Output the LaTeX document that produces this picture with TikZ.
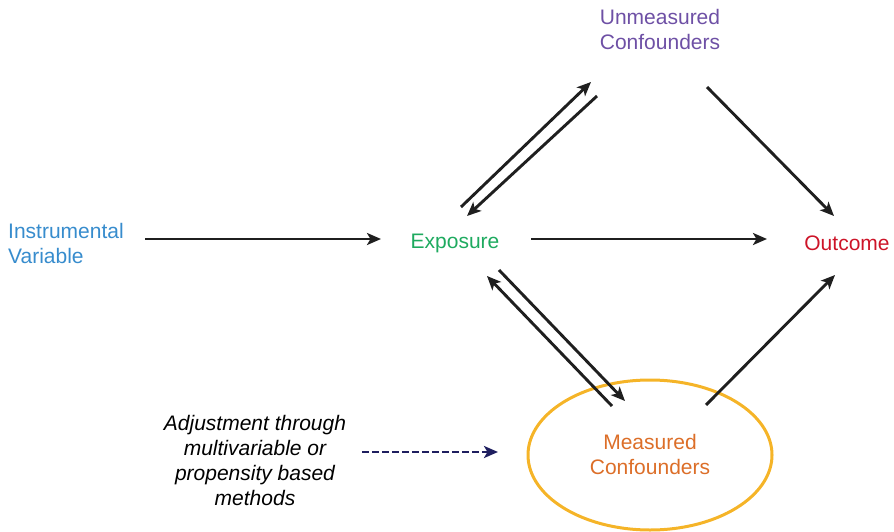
\documentclass[tikz,border=0pt]{standalone}
\usepackage{fontspec}
\setmainfont{Liberation Sans}
\usetikzlibrary{arrows.meta,shapes.geometric}
\definecolor{cunm}{RGB}{110,80,165}
\definecolor{civ}{RGB}{55,140,205}
\definecolor{cexp}{RGB}{30,170,95}
\definecolor{cout}{RGB}{205,20,40}
\definecolor{cmeas}{RGB}{220,110,40}
\definecolor{cell}{RGB}{245,180,40}
\definecolor{cdash}{RGB}{30,30,95}
\tikzset{
  lbl/.style={font=\fontsize{21}{25}\selectfont, align=center, inner sep=0pt},
  arr/.style={line width=2.9pt, draw={black!88}, -{Stealth[length=14pt,width=12pt,inset=3.5pt]}},
  darr/.style={line width=2.9pt, draw=cdash, dash pattern=on 7pt off 3pt, -{Stealth[length=14pt,width=12pt,inset=3.5pt]}}
}
\begin{document}
\begin{tikzpicture}[x=1pt,y=-1pt]
\useasboundingbox (0,0) rectangle (894,532);
\node[lbl, text=cunm] (unm) at (660,29) {Unmeasured\\Confounders};
\node[lbl, text=civ, align=left, anchor=west] (iv) at (8,243.5) {Instrumental\\Variable};
\node[lbl, text=cexp] (exp) at (455,243) {Exposure};
\node[lbl, text=cout] (out) at (847,243) {Outcome};
\node[draw=cell, line width=3pt, ellipse, minimum width=244pt, minimum height=150pt, inner sep=0pt] (ell) at (650,455) {};
\node[lbl, text=cmeas] (meas) at (650,454) {Measured\\Confounders};
\node[lbl, font=\fontsize{21}{25}\selectfont\itshape] (adj) at (255,460) {Adjustment through\\multivariable or\\propensity based\\methods};

\draw[arr] ([shift={(137,-4.5)}]iv.west) -- ([shift={(-74,-4)}]exp.center);
\draw[arr] ([shift={(76,-4)}]exp.center) -- ([shift={(-80,-4)}]out.center);
\draw[arr] ([shift={(6,-36)}]exp.center) -- ([shift={(-69,53)}]unm.center);
\draw[arr] ([shift={(-63,67)}]unm.center) -- ([shift={(12,-27)}]exp.center);
\draw[arr] ([shift={(47,58)}]unm.center) -- ([shift={(-13,-27)}]out.center);
\draw[arr] ([shift={(44,27)}]exp.center) -- ([shift={(-25,-53)}]meas.center);
\draw[arr] ([shift={(-38,-48)}]meas.center) -- ([shift={(32,33)}]exp.center);
\draw[arr] ([shift={(56,-49)}]meas.center) -- ([shift={(-12,32)}]out.center);
\draw[darr] ([shift={(107,-8)}]adj.center) -- ([shift={(243,-8)}]adj.center);
\end{tikzpicture}
\end{document}
